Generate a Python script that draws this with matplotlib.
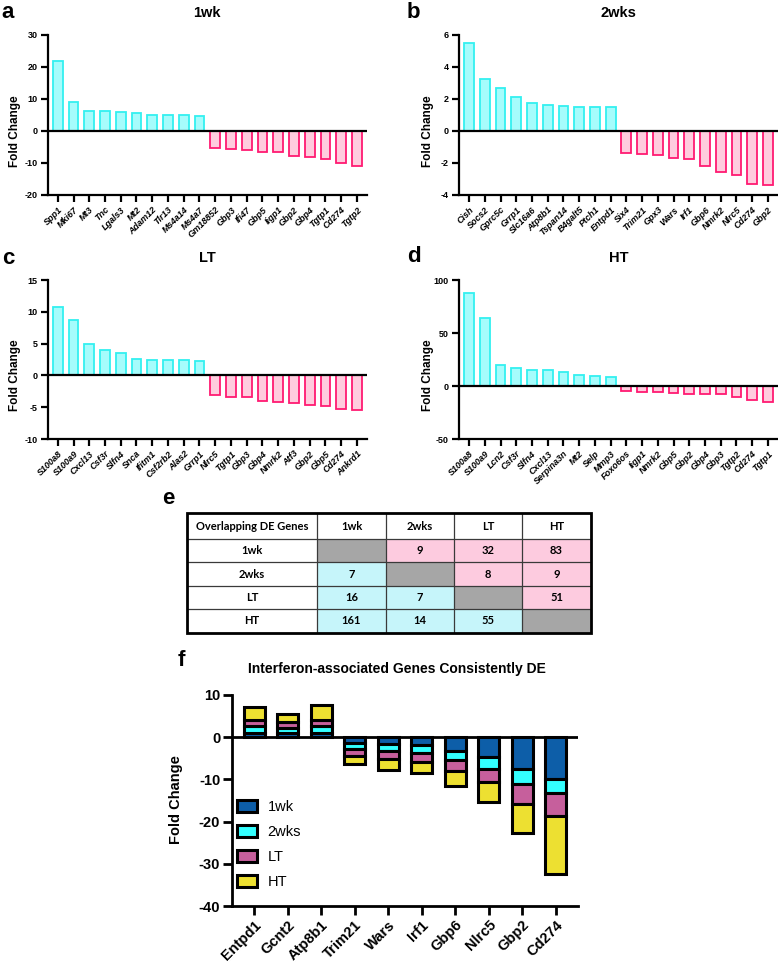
import numpy as np
import matplotlib
matplotlib.use("Agg")
import matplotlib.pyplot as plt
from matplotlib.patches import Rectangle

plt.rcParams["font.family"] = ["Liberation Sans", "DejaVu Sans"]
plt.rcParams["axes.unicode_minus"] = False

W, H = 778, 968

# ---- panels a-d: top 10 up / top 10 down genes -------------------------
GENES_1WK = ["Spp1", "Mki67", "Mt3", "Tnc", "Lgals3", "Mt2", "Adam12", "Tlr13",
             "Ms4a14", "Ms4a7", "Gm18852", "Gbp3", "Ifi47", "Gbp5", "Iigp1",
             "Gbp2", "Gbp4", "Tgtp1", "Cd274", "Tgtp2"]
FC_1WK = [21.9, 9.0, 6.4, 6.1, 5.9, 5.6, 5.1, 4.9, 4.9, 4.8,
          -5.3, -5.5, -5.8, -6.5, -6.6, -7.7, -8.1, -8.8, -10.1, -10.8]

GENES_2WKS = ["Cish", "Socs2", "Gprc5c", "Grrp1", "Slc16a6", "Atp8b1", "Tspan14",
              "B4galt5", "Ptch1", "Entpd1", "Six4", "Trim21", "Gpx3", "Wars",
              "Irf1", "Gbp6", "Nmrk2", "Nlrc5", "Cd274", "Gbp2"]
FC_2WKS = [5.52, 3.23, 2.67, 2.1, 1.77, 1.6, 1.58, 1.52, 1.5, 1.48,
           -1.35, -1.46, -1.5, -1.69, -1.75, -2.17, -2.56, -2.77, -3.31, -3.4]

GENES_LT = ["S100a8", "S100a9", "Cxcl13", "Csf3r", "Slfn4", "Snca", "Ifitm1",
            "Csf2rb2", "Alas2", "Grrp1", "Nlrc5", "Tgtp1", "Gbp3", "Gbp4",
            "Nmrk2", "Atf3", "Gbp2", "Gbp5", "Cd274", "Ankrd1"]
FC_LT = [10.8, 8.7, 4.9, 4.0, 3.6, 2.6, 2.5, 2.4, 2.4, 2.3,
         -3.1, -3.35, -3.45, -4.1, -4.2, -4.4, -4.7, -4.8, -5.3, -5.4]

GENES_HT = ["S100a8", "S100a9", "Lcn2", "Csf3r", "Slfn4", "Cxcl13", "Serpina3n",
            "Mt2", "Selp", "Mmp3", "Foxo6os", "Iigp1", "Nmrk2", "Gbp5", "Gbp2",
            "Gbp4", "Gbp3", "Tgtp2", "Cd274", "Tgtp1"]
FC_HT = [88.0, 63.8, 20.0, 17.2, 15.0, 15.0, 12.8, 10.0, 9.1, 8.8,
         -4.7, -5.3, -5.9, -6.6, -7.2, -7.8, -7.8, -10.0, -13.4, -15.0]

# ---- panel e: overlap table --------------------------------------------
GROUPS = ["1wk", "2wks", "LT", "HT"]
OVERLAP = [[None, 9, 32, 83],
           [7, None, 8, 9],
           [16, 7, None, 51],
           [161, 14, 55, None]]

# ---- panel f: stacked interferon genes ---------------------------------
IFN_GENES = ["Entpd1", "Gcnt2", "Atp8b1", "Trim21", "Wars", "Irf1", "Gbp6",
             "Nlrc5", "Gbp2", "Cd274"]
IFN_1WK = [1.1, 1.0, 1.0, -1.4, -1.6, -1.8, -3.2, -4.8, -7.6, -10.0]
IFN_2WKS = [1.45, 1.2, 1.55, -1.5, -1.65, -1.9, -2.1, -2.7, -3.4, -3.3]
IFN_LT = [1.6, 1.3, 1.6, -1.5, -2.0, -2.2, -2.7, -3.1, -4.8, -5.4]
IFN_HT = [3.1, 2.1, 3.4, -1.9, -2.5, -2.7, -3.6, -4.7, -6.9, -13.7]

CYAN_FACE, CYAN_EDGE = "#A6FCFC", "#33F0F0"
PINK_FACE, PINK_EDGE = "#FFCCDE", "#FF1A72"
F_COLS = {"1wk": "#0D5EA8", "2wks": "#33FFFF", "LT": "#C65F9C", "HT": "#EDE031"}
TAB_PINK, TAB_CYAN, TAB_GRAY = "#FDCBDF", "#C6F5FA", "#A6A6A6"

fig = plt.figure(figsize=(W / 100, H / 100), dpi=100)


def px_axes(l, t, r, b):
    return fig.add_axes([l / W, 1 - b / H, (r - l) / W, (b - t) / H])


def fc_panel(ax, genes, fc, ylim, yticks):
    x = np.arange(len(genes))
    fc = np.asarray(fc)
    up = fc > 0
    ax.bar(x[up], fc[up], width=0.62, color=CYAN_FACE, edgecolor=CYAN_EDGE, lw=1.3)
    ax.bar(x[~up], fc[~up], width=0.62, color=PINK_FACE, edgecolor=PINK_EDGE, lw=1.3)
    ax.axhline(0, color="black", lw=1.6, zorder=3)
    ax.set_xlim(-0.64, len(genes) - 0.36)
    ax.set_ylim(*ylim)
    ax.set_yticks(yticks)
    ax.set_xticks(x)
    ax.set_xticklabels(genes, rotation=45, ha="right", rotation_mode="anchor",
                       fontsize=6.7, fontweight="bold", fontstyle="italic")
    for lab in ax.get_yticklabels():
        lab.set_fontweight("bold")
    for s in ("top", "right"):
        ax.spines[s].set_visible(False)
    for s in ("left", "bottom"):
        ax.spines[s].set_linewidth(1.6)
    ax.tick_params(width=1.6, length=5.3, labelsize=6.5, pad=2)


panels = [
    ("a", "1wk", GENES_1WK, FC_1WK, (-20, 30), [-20, -10, 0, 10, 20, 30], (47.7, 35, 367, 195), 8, 13),
    ("b", "2wks", GENES_2WKS, FC_2WKS, (-4, 6), [-4, -2, 0, 2, 4, 6], (459, 35, 778, 195), 413, 13),
    ("c", "LT", GENES_LT, FC_LT, (-10, 15), [-10, -5, 0, 5, 10, 15], (47.7, 280, 367, 439), 8, 259),
    ("d", "HT", GENES_HT, FC_HT, (-50, 100), [-50, 0, 50, 100], (459, 280, 778, 439), 414, 257),
]
for letter, title, genes, fc, ylim, yt, box, lx, ly in panels:
    ax = px_axes(*box)
    fc_panel(ax, genes, fc, ylim, yt)
    cx = (box[0] + box[2]) / 2
    fig.text(cx / W, 1 - (box[1] - 22) / H, title, ha="center", va="center",
             fontsize=10.5, fontweight="bold")
    fig.text(lx / W, 1 - ly / H, letter, ha="center", va="center",
             fontsize=16, fontweight="bold")
    ylab_x = 15 if box[0] < 100 else 428
    ylab_y = 131 if box[1] < 100 else 375
    fig.text(ylab_x / W, 1 - ylab_y / H, "Fold Change", rotation=90,
             ha="center", va="center", fontsize=8.5, fontweight="bold")

# ---- table e -----------------------------------------------------------
col_edges = [187, 317, 386, 454, 522, 591]
row_edges = [513, 539, 562, 586, 609, 633]
tax = px_axes(col_edges[0], row_edges[0], col_edges[-1], row_edges[-1])
tax.set_xlim(col_edges[0], col_edges[-1])
tax.set_ylim(row_edges[-1], row_edges[0])
tax.axis("off")
tfont = dict(family=["Lato", "DejaVu Sans"], fontweight="bold", fontsize=8.0,
             ha="center", va="center")
header = ["Overlapping DE Genes"] + GROUPS
for j, txt in enumerate(header):
    tax.text((col_edges[j] + col_edges[j + 1]) / 2, (row_edges[0] + row_edges[1]) / 2,
             txt, **tfont)
for i, g in enumerate(GROUPS):
    y0, y1 = row_edges[i + 1], row_edges[i + 2]
    tax.text((col_edges[0] + col_edges[1]) / 2, (y0 + y1) / 2, g, **tfont)
    for j, v in enumerate(OVERLAP[i]):
        x0, x1 = col_edges[j + 1], col_edges[j + 2]
        fc = TAB_GRAY if v is None else (TAB_PINK if j > i else TAB_CYAN)
        tax.add_patch(Rectangle((x0, y0), x1 - x0, y1 - y0, facecolor=fc,
                                edgecolor="none", zorder=1))
        if v is not None:
            tax.text((x0 + x1) / 2, (y0 + y1) / 2, str(v), **tfont)
for xe in col_edges[1:-1]:
    tax.plot([xe, xe], [row_edges[0], row_edges[-1]], color="#3a3a3a", lw=0.9, zorder=2)
for ye in row_edges[1:-1]:
    tax.plot([col_edges[0], col_edges[-1]], [ye, ye], color="#3a3a3a", lw=0.9, zorder=2)
tax.add_patch(Rectangle((col_edges[0], row_edges[0]), col_edges[-1] - col_edges[0],
                        row_edges[-1] - row_edges[0], facecolor="none",
                        edgecolor="black", lw=2.0, zorder=3, clip_on=False))
fig.text(168 / W, 1 - 499 / H, "e", ha="center", va="center", fontsize=16,
         fontweight="bold")

# ---- panel f -----------------------------------------------------------
fax = px_axes(232, 695, 578, 906)
x = np.arange(len(IFN_GENES))
series = [("1wk", IFN_1WK), ("2wks", IFN_2WKS), ("LT", IFN_LT), ("HT", IFN_HT)]
bottom = np.zeros(len(IFN_GENES))
for name, vals in series:
    vals = np.asarray(vals)
    fax.bar(x, vals, width=0.62, bottom=bottom, color=F_COLS[name],
            edgecolor="black", lw=2.2, label=name, zorder=2)
    bottom = bottom + vals
fax.axhline(0, color="black", lw=2.0, zorder=3)
fax.set_xlim(-0.66, len(IFN_GENES) - 0.34)
fax.set_ylim(-40, 10)
fax.set_yticks([-40, -30, -20, -10, 0, 10])
fax.set_xticks(x)
fax.set_xticklabels(IFN_GENES, rotation=45, ha="right", rotation_mode="anchor",
                    fontsize=10.5, fontweight="bold")
for lab in fax.get_yticklabels():
    lab.set_fontweight("bold")
for s in ("top", "right"):
    fax.spines[s].set_visible(False)
for s in ("left", "bottom"):
    fax.spines[s].set_linewidth(2.0)
fax.tick_params(width=2.0, length=6.5, labelsize=10.5, pad=2)
handles = [Rectangle((0, 0), 1, 1, facecolor=F_COLS[n], edgecolor="black", lw=2.2)
           for n, _ in series]
fax.legend(handles, [n for n, _ in series], loc="upper left",
           bbox_to_anchor=(237 / W, 1 - 800 / H), bbox_transform=fig.transFigure,
           frameon=False, fontsize=10.5, handlelength=1.4, handleheight=0.85,
           handletextpad=0.7, labelspacing=0.75, borderpad=0, borderaxespad=0)
fig.text(397 / W, 1 - 669 / H, "Interferon-associated Genes Consistently DE",
         ha="center", va="center", fontsize=10, fontweight="bold")
fig.text(176 / W, 1 - 800 / H, "Fold Change", rotation=90, ha="center",
         va="center", fontsize=10.5, fontweight="bold")
fig.text(181 / W, 1 - 660 / H, "f", ha="center", va="center", fontsize=16,
         fontweight="bold")

fig.savefig("out.png", dpi=100)
